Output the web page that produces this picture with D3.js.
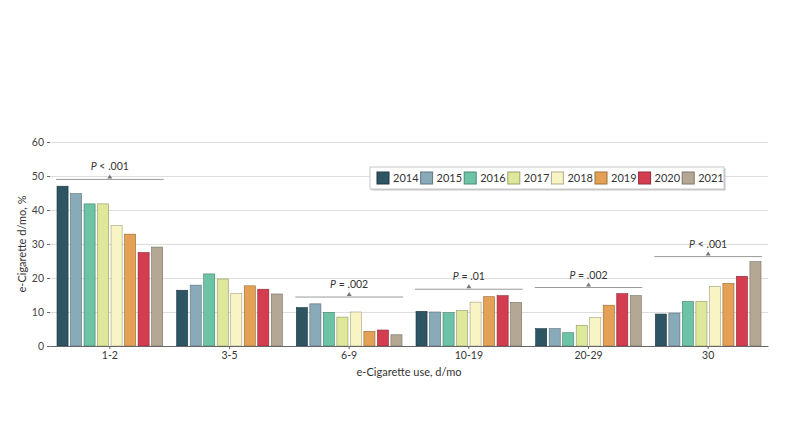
<!DOCTYPE html>
<html>
<head>
<meta charset="utf-8">
<script src="https://cdn.jsdelivr.net/npm/d3@7"></script>
<style>
  body { margin: 0; background: #fff; }
  svg text { font-family: Lato, "Open Sans", "DejaVu Sans", sans-serif; fill: #333; }
</style>
</head>
<body>
<div id="chart"></div>
<script>
var width = 790, height = 443;
var margin = { top: 142, right: 22, bottom: 97, left: 50 };

// data
var groups = ["1-2", "3-5", "6-9", "10-19", "20-29", "30"];
var years = ["2014", "2015", "2016", "2017", "2018", "2019", "2020", "2021"];
var colors = ["#2d5563", "#88aab9", "#6cc3a5", "#dfe79b", "#f8f4c4", "#e4a055", "#d43c50", "#b4a894"];
var values = [
  [47.0, 44.8, 41.8, 41.8, 35.5, 32.9, 27.5, 29.1],
  [16.4, 17.9, 21.2, 19.7, 15.4, 17.7, 16.7, 15.3],
  [11.3, 12.4, 9.9, 8.5, 10.0, 4.3, 4.7, 3.3],
  [10.2, 10.0, 9.8, 10.4, 12.9, 14.5, 14.8, 12.8],
  [5.1, 5.1, 3.9, 6.1, 8.4, 12.0, 15.4, 14.8],
  [9.4, 9.7, 13.1, 13.1, 17.5, 18.4, 20.5, 24.8]
];
var pLabels = ["< .001", null, "= .002", "= .01", "= .002", "< .001"];
var pLevels = [49.0, null, 14.4, 16.7, 17.2, 26.3];
var yTicks = [0, 10, 20, 30, 40, 50, 60];

var svg = d3.select("#chart")
  .append("svg")
  .attr("width", width)
  .attr("height", height);

var x0 = d3.scaleBand()
  .domain(groups)
  .range([margin.left, width - margin.right])
  .padding(0);

var x1 = d3.scaleBand()
  .domain(years)
  .range([7, x0.bandwidth() - 7])
  .paddingInner(0.18)
  .paddingOuter(0);

var yScale = d3.scaleLinear()
  .domain([0, 60])
  .range([height - margin.bottom, margin.top]);

// grid
svg.append("g")
  .attr("class", "grid")
  .attr("transform", `translate(${margin.left},0)`)
  .call(d3.axisLeft(yScale).tickValues(yTicks).tickSize(-(width - margin.left - margin.right)).tickFormat(""))
  .call(g => g.select(".domain").remove())
  .selectAll("line")
  .attr("stroke", "#dedede");

// y axis
svg.append("g")
  .attr("class", "y-axis")
  .attr("transform", `translate(${margin.left},0)`)
  .call(d3.axisLeft(yScale).tickValues(yTicks).tickSize(3).tickPadding(3))
  .call(g => g.select(".domain").remove())
  .call(g => g.selectAll("line").attr("stroke", "#666"))
  .selectAll("text")
  .attr("font-size", "10.5px")
  .style("fill", "#444");

// bars
var rows = [];
groups.forEach(function(gname, i) {
  years.forEach(function(yr, j) {
    rows.push({ group: gname, year: yr, value: values[i][j], color: colors[j] });
  });
});

svg.selectAll("rect.bar")
  .data(rows)
  .enter()
  .append("rect")
  .attr("class", "bar")
  .attr("x", d => x0(d.group) + x1(d.year))
  .attr("y", d => yScale(d.value))
  .attr("width", x1.bandwidth())
  .attr("height", d => yScale(0) - yScale(d.value))
  .attr("fill", d => d.color)
  .attr("stroke", d => d3.color(d.color).darker(1.2))
  .attr("stroke-width", 0.6);

// x axis
svg.append("g")
  .attr("class", "x-axis")
  .attr("transform", `translate(0,${yScale(0)})`)
  .call(d3.axisBottom(x0).tickSize(3).tickPadding(3).tickSizeOuter(0))
  .call(g => g.select(".domain").attr("stroke", "#666"))
  .call(g => g.selectAll("line").attr("stroke", "#666"))
  .selectAll("text")
  .attr("font-size", "10.5px")
  .style("fill", "#333");

// significance brackets
var ann = groups.map((gname, i) => ({ group: gname, label: pLabels[i], level: pLevels[i] }))
  .filter(d => d.label);

var annG = svg.selectAll("g.ann")
  .data(ann)
  .enter()
  .append("g")
  .attr("class", "ann");

annG.append("line")
  .attr("x1", d => x0(d.group) + 6)
  .attr("x2", d => x0(d.group) + x0.bandwidth() - 6)
  .attr("y1", d => yScale(d.level))
  .attr("y2", d => yScale(d.level))
  .attr("stroke", "#9a9a9a")
  .attr("stroke-width", 1);

annG.append("path")
  .attr("d", d => {
    var cx = x0(d.group) + x0.bandwidth() / 2, cy = yScale(d.level);
    return `M${cx - 2.5},${cy - 1}L${cx + 2.5},${cy - 1}L${cx},${cy - 5}Z`;
  })
  .attr("fill", "#777");

var annText = annG.append("text")
  .attr("x", d => x0(d.group) + x0.bandwidth() / 2)
  .attr("y", d => yScale(d.level) - 9)
  .attr("text-anchor", "middle")
  .attr("font-size", "10.5px");
annText.append("tspan").attr("font-style", "italic").text("P");
annText.append("tspan").text(d => " " + d.label);

// axis labels
svg.append("text")
  .attr("text-anchor", "middle")
  .attr("transform", `translate(26,${(yScale(0) + yScale(60)) / 2}) rotate(-90)`)
  .attr("font-size", "11px")
  .text("e-Cigarette d/mo, %");

svg.append("text")
  .attr("text-anchor", "middle")
  .attr("x", (margin.left + width - margin.right) / 2)
  .attr("y", 376)
  .attr("font-size", "11px")
  .text("e-Cigarette use, d/mo");

// legend
var legX = 370, legY = 167, legW = 354, legH = 22;
var legend = svg.append("g").attr("class", "legend");
legend.append("rect")
  .attr("x", legX + 1.5).attr("y", legY + 1.5)
  .attr("width", legW).attr("height", legH)
  .attr("fill", "#c8c8c8");
legend.append("rect")
  .attr("x", legX).attr("y", legY)
  .attr("width", legW).attr("height", legH)
  .attr("fill", "#fff")
  .attr("stroke", "#c8c8c8");

var legItem = legend.selectAll("g.item")
  .data(years)
  .enter()
  .append("g")
  .attr("class", "item")
  .attr("transform", (d, i) => `translate(${legX + 7 + i * 43.6},${legY + 5})`);

legItem.append("rect")
  .attr("width", 12).attr("height", 12)
  .attr("fill", (d, i) => colors[i])
  .attr("stroke", (d, i) => d3.color(colors[i]).darker(1));

legItem.append("text")
  .attr("x", 16).attr("y", 10)
  .attr("font-size", "11px")
  .text(d => d);
</script>
</body>
</html>
